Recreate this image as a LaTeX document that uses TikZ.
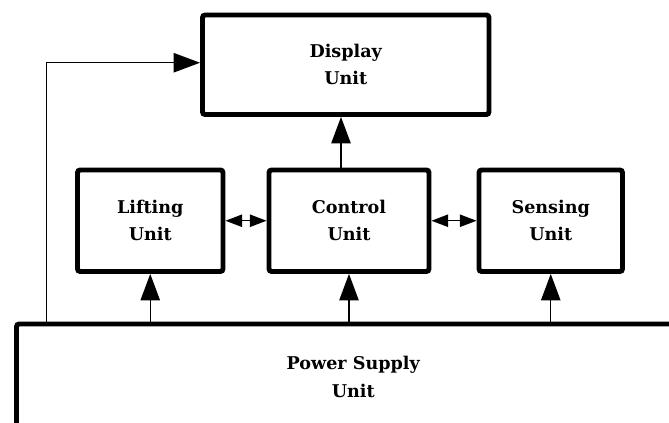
\documentclass[tikz,border=0pt]{standalone}
\usepackage{fontspec}
\setmainfont{DejaVu Serif}
\usepackage{tikz}
\usetikzlibrary{arrows.meta, positioning, calc}

\begin{document}
\begin{tikzpicture}[
    unitbox/.style={draw, line width=2.8pt, rounded corners=1.5pt, align=center,
      font=\fontsize{10}{15.5}\selectfont\bfseries, inner sep=0pt},
    bigarrow/.style={line width=0.85pt, -{Triangle[length=15pt, width=11pt]}},
    dblarrow/.style={line width=0.85pt, {Triangle[length=9.5pt, width=7pt]}-{Triangle[length=9.5pt, width=7pt]}}
  ]
  \useasboundingbox (0,0) rectangle (13.38,8.46);

  % units
  \node[unitbox, minimum width=5.73cm, minimum height=1.99cm] (disp) at (6.915,7.165) {Display\\Unit};
  \node[unitbox, minimum width=2.91cm, minimum height=2.03cm] (lift) at (3.005,4.045) {Lifting\\Unit};
  \node[unitbox, minimum width=3.2cm, minimum height=2.03cm] (ctrl) at (6.98,4.045) {Control\\Unit};
  \node[unitbox, minimum width=2.87cm, minimum height=2.03cm] (sens) at (11.015,4.045) {Sensing\\Unit};
  \node[unitbox, minimum width=13.47cm, minimum height=2.12cm] (power) at (7.065,0.92) {Power Supply\\Unit};

  % supply lines
  \draw[bigarrow] (power.north -| lift) -- (lift.south);
  \draw[bigarrow] (power.north -| ctrl) -- (ctrl.south);
  \draw[bigarrow] (power.north -| sens) -- (sens.south);
  \draw[bigarrow] ([xshift=0.65cm]power.north west) |- ([yshift=0.04cm]disp.west);

  % control links
  \draw[bigarrow] ([xshift=-0.16cm]ctrl.north) -- ([xshift=-0.16cm]ctrl.north |- disp.south);
  \draw[dblarrow] (lift.east) -- (ctrl.west);
  \draw[dblarrow] (ctrl.east) -- (sens.west);
\end{tikzpicture}
\end{document}
